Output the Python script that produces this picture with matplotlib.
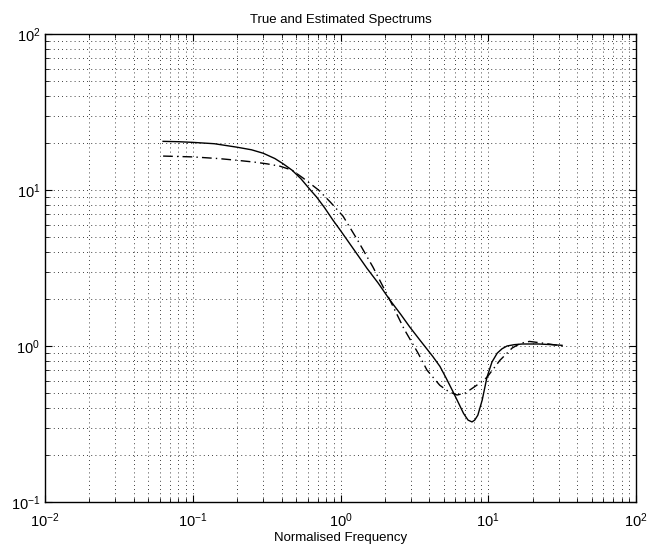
import matplotlib
matplotlib.use('Agg')
import matplotlib.pyplot as plt

plt.rcParams['font.family'] = ['Liberation Sans', 'DejaVu Sans']
plt.rcParams['mathtext.default'] = 'regular'

# True spectrum (solid)
true_freq = [0.063, 0.08, 0.1, 0.14, 0.2, 0.25, 0.3, 0.36, 0.41, 0.47, 0.54, 0.62, 0.69,
             0.78, 0.89, 1.0, 1.2, 1.51, 1.8, 2.16, 2.55, 2.95, 3.45, 4.2, 4.71,
             5.2, 5.77, 6.3, 6.8, 7.3, 7.76, 8.1, 8.5, 9.1, 9.8, 10.6, 11.5,
             12.4, 13.4, 15.0, 17.0, 22.0, 27.0, 31.6]
true_vals = [20.5, 20.4, 20.2, 19.8, 18.8, 18.1, 17.2, 15.9, 14.7, 13.4, 11.8, 10.1, 9.0,
             7.7, 6.4, 5.5, 4.3, 3.15, 2.53, 1.97, 1.6, 1.32, 1.09, 0.86, 0.74,
             0.62, 0.51, 0.43, 0.37, 0.335, 0.326, 0.335, 0.36, 0.45, 0.63, 0.79, 0.90,
             0.96, 1.0, 1.02, 1.03, 1.03, 1.02, 1.01]

# Estimated spectrum (dash-dot)
est_freq = [0.063, 0.1, 0.15, 0.2, 0.26, 0.32, 0.39, 0.47, 0.56, 0.71, 0.85, 1.04,
            1.3, 1.66, 2.16, 2.7, 3.35, 3.85, 4.7, 5.4, 6.15, 7.0, 7.9, 8.8,
            9.8, 12.0, 14.5, 16.5, 19.0, 24.0, 31.6]
est_vals = [16.5, 16.3, 15.9, 15.5, 15.1, 14.7, 14.2, 13.4, 11.9, 10.0, 8.4, 6.8,
            4.8, 3.2, 1.97, 1.28, 0.90, 0.70, 0.56, 0.51, 0.485, 0.50, 0.54, 0.58,
            0.63, 0.81, 0.97, 1.04, 1.07, 1.04, 1.0]

fig = plt.figure(figsize=(6.49, 5.49), dpi=100)
ax = fig.add_axes([45 / 649, 1 - 502 / 549, 591 / 649, 468 / 549])

ax.loglog(true_freq, true_vals, color='black', linewidth=1.0, linestyle='-')
ax.loglog(est_freq, est_vals, color='black', linewidth=1.0, linestyle=(0, (7, 3, 1, 3)))

ax.set_xlim(1e-2, 1e2)
ax.set_ylim(1e-1, 1e2)
ax.grid(True, which='both', color='black', linestyle=(0, (1, 4)), linewidth=0.6)
ax.tick_params(which='both', direction='in', top=True, right=True, labelsize=10.5)
ax.tick_params(which='major', length=5)
ax.tick_params(which='minor', length=3)
ax.tick_params(axis='x', which='major', pad=7)
for s in ax.spines.values():
    s.set_linewidth(1.0)

ax.set_title('True and Estimated Spectrums', fontsize=9.5, pad=8)
ax.set_xlabel('Normalised Frequency', fontsize=9.5, labelpad=1)

fig.savefig('out.png', dpi=100)
